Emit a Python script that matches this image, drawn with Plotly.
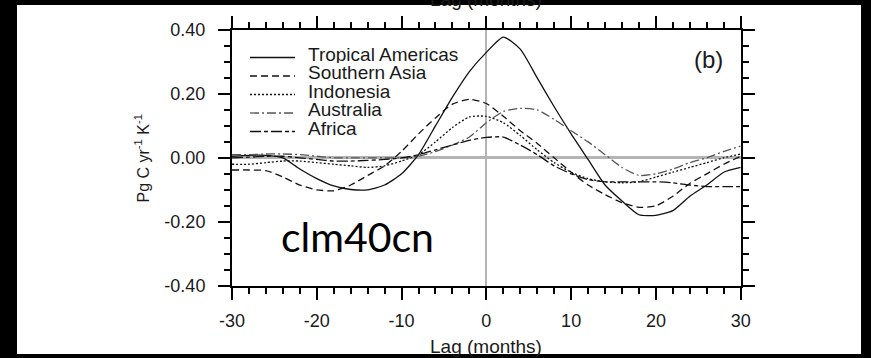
import plotly.graph_objects as go

# ---- data -------------------------------------------------------------
lags = list(range(-30, 31, 2))

tropical_americas = [0.005, 0.008, 0.008, 0.0, -0.035, -0.065, -0.088, -0.099, -0.100, -0.085,
                     -0.05, 0.01, 0.10, 0.19, 0.27, 0.33, 0.378, 0.34, 0.25, 0.16,
                     0.075, -0.005, -0.085, -0.135, -0.178, -0.18, -0.165, -0.12, -0.085, -0.045, -0.03]
southern_asia = [-0.038, -0.038, -0.04, -0.06, -0.085, -0.10, -0.103, -0.085, -0.055, -0.025,
                 0.02, 0.075, 0.125, 0.168, 0.183, 0.17, 0.13, 0.085, 0.045, 0.0,
                 -0.045, -0.085, -0.115, -0.14, -0.155, -0.15, -0.12, -0.08, -0.05, -0.02, 0.005]
indonesia = [-0.02, -0.02, -0.015, -0.01, -0.01, -0.015, -0.02, -0.025, -0.03, -0.025,
             -0.01, 0.01, 0.05, 0.095, 0.128, 0.13, 0.11, 0.07, 0.025, -0.015,
             -0.045, -0.065, -0.075, -0.078, -0.075, -0.06, -0.045, -0.03, -0.015, 0.0, 0.012]
australia = [0.01, 0.01, 0.012, 0.012, 0.01, 0.005, 0.0, 0.0, 0.0, 0.0,
             0.0, 0.005, 0.02, 0.04, 0.065, 0.11, 0.145, 0.155, 0.15, 0.12,
             0.085, 0.05, 0.01, -0.03, -0.055, -0.05, -0.035, -0.015, 0.0, 0.02, 0.037]
africa = [0.0, 0.002, 0.005, 0.005, 0.0, -0.005, -0.01, -0.01, -0.008, -0.005,
          0.0, 0.01, 0.025, 0.04, 0.055, 0.064, 0.065, 0.04, 0.01, -0.025,
          -0.05, -0.068, -0.075, -0.075, -0.075, -0.075, -0.078, -0.085, -0.09, -0.09, -0.09]

series_names = ["Tropical Americas", "Southern Asia", "Indonesia", "Australia", "Africa"]
series_values = [tropical_americas, southern_asia, indonesia, australia, africa]

x_tickvals = [-30, -20, -10, 0, 10, 20, 30]
x_ticktext = ["-30", "-20", "-10", "0", "10", "20", "30"]
y_tickvals = [-0.4, -0.2, 0.0, 0.2, 0.4]
y_ticktext = ["-0.40", "-0.20", "0.00", "0.20", "0.40"]

# ---- styles -----------------------------------------------------------
W, H = 871, 358
FONT = "Liberation Sans, Arial, sans-serif"
TXT = "#1a1a1a"
styles = [
    dict(color="#111111", dash="solid"),
    dict(color="#111111", dash="7px,4px"),
    dict(color="#111111", dash="2px,2px"),
    dict(color="#555555", dash="9px,3px,2px,3px"),
    dict(color="#111111", dash="11px,3px,4px,3px"),
]

def px_x(p):
    return p / W

def px_y(p):
    return 1 - p / H

fig = go.Figure()
for name, vals, st in zip(series_names, series_values, styles):
    fig.add_trace(go.Scatter(
        x=lags, y=vals, name=name, mode="lines", showlegend=False,
        line=dict(color=st["color"], dash=st["dash"], width=1.3, shape="spline", smoothing=0.6),
    ))

axis_common = dict(
    showline=True, linecolor="black", linewidth=2, mirror="ticks",
    ticks="outside", ticklen=12, tickwidth=2, tickcolor="black",
    showgrid=False,
    tickfont=dict(family=FONT, size=18, color=TXT),
)

fig.update_xaxes(
    domain=[px_x(232), px_x(740.7)], range=[-30, 30],
    tickmode="array", tickvals=x_tickvals, ticktext=x_ticktext,
    zeroline=True, zerolinecolor="#b4b4b4", zerolinewidth=2,
    minor=dict(dtick=2, ticklen=6, tickwidth=1.5, tickcolor="black", ticks="outside"),
    ticklabelstandoff=6,
    **axis_common,
)
fig.update_yaxes(
    domain=[px_y(285.7), px_y(30)], range=[-0.4, 0.4],
    tickmode="array", tickvals=y_tickvals, ticktext=y_ticktext,
    zeroline=True, zerolinecolor="#b4b4b4", zerolinewidth=2.5,
    minor=dict(dtick=0.05, ticklen=6, tickwidth=1.5, tickcolor="black", ticks="outside"),
    ticklabelstandoff=9,
    **axis_common,
)

shapes = [
    dict(type="rect", xref="paper", yref="paper", x0=px_x(17), x1=px_x(861), y0=px_y(354), y1=px_y(5),
         fillcolor="white", line=dict(width=0), layer="below"),
]

# manual legend
leg_rows = [57.5, 76, 94.5, 113, 131.5]
annotations = []
for name, st, ry in zip(series_names, styles, leg_rows):
    shapes.append(dict(type="line", xref="paper", yref="paper",
                       x0=px_x(250), x1=px_x(295), y0=px_y(ry), y1=px_y(ry),
                       line=dict(color=st["color"], dash=st["dash"], width=1.3), layer="above"))
    annotations.append(dict(text=name, xref="paper", yref="paper", x=px_x(307), y=px_y(ry - 3.5),
                            xanchor="left", yanchor="middle", showarrow=False, height=17,
                            valign="middle", borderpad=0,
                            font=dict(family=FONT, size=19, color=TXT)))

annotations += [
    dict(text="(b)", xref="paper", yref="paper", x=px_x(708), y=px_y(59.4), xanchor="center",
         yanchor="middle", showarrow=False, font=dict(family=FONT, size=24, color=TXT)),
    dict(text="Pg C yr<sup>-1</sup> K<sup>-1</sup>", xref="paper", yref="paper", x=px_x(142.5), y=px_y(159),
         xanchor="center", yanchor="middle", textangle=-90, showarrow=False,
         font=dict(family=FONT, size=16, color=TXT)),
    dict(text="Lag (months)", xref="paper", yref="paper", x=px_x(486), y=px_y(346.1), xanchor="center",
         yanchor="middle", showarrow=False, font=dict(family=FONT, size=19, color=TXT)),
    dict(text="Lag (months)", xref="paper", yref="paper", x=px_x(486), y=px_y(-0.6), xanchor="center",
         yanchor="middle", showarrow=False, font=dict(family=FONT, size=19, color=TXT)),
    dict(text="clm40cn", xref="paper", yref="paper", x=px_x(357), y=px_y(236), xanchor="center",
         yanchor="middle", showarrow=False, font=dict(family="Lato, sans-serif", size=41, color="black")),
]

fig.update_layout(
    width=W, height=H, autosize=False,
    margin=dict(l=0, r=0, t=0, b=0, pad=0, autoexpand=False),
    paper_bgcolor="black", plot_bgcolor="rgba(0,0,0,0)",
    shapes=shapes, annotations=annotations, showlegend=False,
)

fig.write_html(
    "out.html",
    config={"displayModeBar": False},
    post_script="document.body.style.margin='0px';document.body.style.background='black';",
)
